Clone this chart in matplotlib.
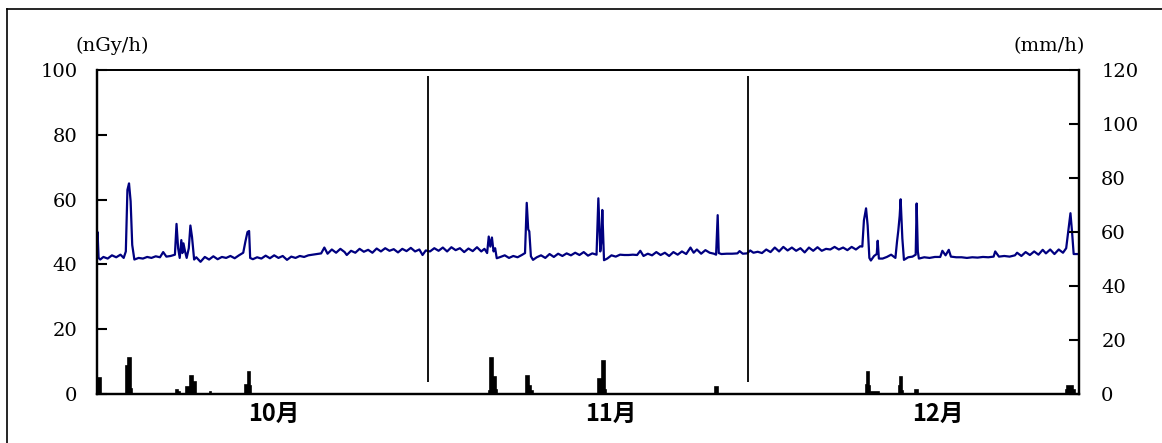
import numpy as np
import matplotlib
matplotlib.use("Agg")
import matplotlib.pyplot as plt
from matplotlib.lines import Line2D

# days counted from 1 Oct 00:00, dose rate in nGy/h
dose_day = [0.0, 0.05, 0.15, 0.3, 0.6, 1.0, 1.4, 1.8, 2.2, 2.5, 2.7, 2.85, 3.0, 3.15, 3.3, 3.5, 3.9, 4.3, 4.7, 5.1,
            5.5, 5.9, 6.2, 6.5, 6.9, 7.3, 7.45, 7.6, 7.75, 7.9, 8.0, 8.1, 8.25, 8.4, 8.6, 8.75, 8.9, 9.1, 9.3, 9.7,
            10.1, 10.5, 10.9, 11.3, 11.7, 12.1, 12.5, 12.9, 13.3, 13.7, 13.9, 14.1, 14.25, 14.35, 14.6, 15.0, 15.4, 15.8, 16.2, 16.6,
            17.0, 17.4, 17.8, 18.2, 18.6, 19.0, 19.4, 19.8, 20.2, 20.6, 21.0, 21.3, 21.6, 22.0, 22.4, 22.8, 23.2, 23.4, 23.8, 24.2,
            24.6, 25.0, 25.4, 25.8, 26.2, 26.6, 27.0, 27.4, 27.8, 28.2, 28.6, 29.0, 29.4, 29.8, 30.2, 30.5, 30.8,
            # Nov
            31.2, 31.6, 32.0, 32.4, 32.8, 33.2, 33.6, 34.0, 34.4, 34.8, 35.2, 35.6, 36.0, 36.3, 36.55, 36.7, 36.85, 37.0, 37.15, 37.3,
            37.45, 37.8, 38.2, 38.6, 39.0, 39.4, 39.8, 40.1, 40.26, 40.4, 40.5, 40.65, 40.85, 41.2, 41.6, 42.0, 42.4, 42.8, 43.2, 43.6,
            44.0, 44.4, 44.8, 45.2, 45.6, 46.0, 46.4, 46.8, 46.97, 47.15, 47.25, 47.34, 47.5, 47.8, 48.2, 48.6, 49.0, 49.4, 49.8, 50.2,
            50.6, 50.9, 51.2, 51.6, 52.0, 52.4, 52.8, 53.2, 53.6, 54.0, 54.4, 54.8, 55.2, 55.6, 55.9, 56.2, 56.6, 57.0, 57.4, 57.8,
            58.0, 58.15, 58.25, 58.5, 59.0, 59.5, 60.0, 60.2, 60.5, 60.9,
            # Dec
            61.2, 61.5, 61.9, 62.3, 62.7, 63.1, 63.5, 63.9, 64.3, 64.7, 65.1, 65.5, 65.9, 66.3, 66.7, 67.1, 67.5, 67.9, 68.3, 68.7,
            69.1, 69.5, 69.9, 70.3, 70.7, 71.1, 71.5, 71.7, 71.85, 72.05, 72.2, 72.36, 72.5, 72.8, 73.05, 73.14, 73.25, 73.6, 74.0, 74.4,
            74.8, 74.95, 75.07, 75.2, 75.29, 75.45, 75.6, 76.0, 76.4, 76.7, 76.79, 76.9, 77.0, 77.5, 78.0, 78.5, 79.0, 79.2, 79.5, 79.8,
            80.0, 80.5, 81.0, 81.5, 82.0, 82.5, 83.0, 83.5, 84.0, 84.15, 84.5, 85.0, 85.5, 86.0, 86.2, 86.6, 87.0, 87.4, 87.8, 88.2,
            88.6, 88.9, 89.3, 89.7, 90.1, 90.5, 90.8, 91.0, 91.2, 91.35, 91.5, 92.0]

dose_rate = [45.0, 50.0, 42.0, 41.5, 42.3, 41.8, 42.8, 42.2, 43.0, 42.0, 44.0, 63.0, 65.0, 59.5, 46.0, 41.5, 42.0, 41.8, 42.3, 42.0,
             42.5, 42.2, 43.8, 42.4, 42.6, 43.0, 52.5, 45.0, 42.0, 47.5, 43.5, 46.5, 44.0, 42.0, 45.0, 52.0, 48.5, 41.5, 42.2, 40.8,
             42.3, 41.5, 42.5, 41.6, 42.3, 42.0, 42.6, 41.9, 42.8, 43.6, 47.0, 50.0, 50.3, 42.0, 41.6, 42.2, 41.8, 42.7, 41.9, 42.8,
             42.0, 42.6, 41.4, 42.4, 42.0, 42.6, 42.3, 42.8, 43.0, 43.2, 43.4, 45.2, 43.3, 44.6, 43.6, 44.8, 43.8, 42.9, 44.2, 43.6,
             44.8, 43.9, 44.5, 43.6, 44.9, 44.0, 45.0, 44.2, 44.7, 43.7, 44.8, 44.1, 45.1, 44.0, 44.6, 42.9, 44.3,
             # Nov
             44.0, 45.0, 44.2, 45.2, 44.0, 45.3, 44.4, 45.0, 43.8, 44.9, 44.1, 45.3, 44.0, 44.8, 43.5, 48.6, 45.5, 48.3, 44.0, 45.0,
             41.9, 42.3, 42.8, 42.0, 42.6, 42.2, 42.9, 43.5, 59.0, 50.8, 50.2, 42.5, 41.4, 42.2, 42.8, 42.0, 43.2, 42.3, 43.3, 42.6,
             43.4, 42.8, 43.6, 42.9, 43.8, 42.7, 43.4, 43.0, 60.4, 44.0, 47.0, 56.8, 41.3, 41.8, 42.8, 42.4, 43.0, 42.9, 42.9, 43.0,
             42.9, 44.2, 42.6, 43.3, 42.8, 43.8, 42.9, 43.6, 42.6, 43.8, 43.0, 44.0, 43.2, 45.2, 43.6, 44.6, 43.3, 44.4, 43.6, 43.3,
             43.0, 55.2, 43.5, 43.2, 43.3, 43.3, 43.4, 44.1, 43.3, 43.4,
             # Dec
             44.3, 43.6, 43.9, 43.5, 44.6, 43.8, 45.2, 44.0, 45.4, 44.3, 45.2, 44.2, 45.0, 43.7, 45.2, 44.2, 45.3, 44.2, 44.8, 44.6,
             45.4, 44.6, 45.2, 44.4, 45.4, 44.6, 45.6, 45.5, 53.6, 57.3, 52.0, 42.0, 41.2, 42.6, 43.2, 47.3, 41.8, 41.8, 42.3, 43.0,
             42.0, 47.0, 50.4, 55.0, 60.1, 48.0, 41.4, 42.2, 42.4, 43.0, 58.8, 44.0, 41.8, 42.2, 42.0, 42.3, 42.3, 44.2, 42.8, 44.5,
             42.4, 42.2, 42.2, 42.0, 42.2, 42.1, 42.3, 42.2, 42.4, 44.0, 42.4, 42.6, 42.4, 42.8, 43.6, 42.6, 43.8, 42.9, 44.0, 43.0,
             44.5, 43.4, 44.6, 43.2, 44.6, 43.6, 45.0, 50.5, 55.8, 50.0, 43.2, 43.2]

# rainfall (mm/h): start day, duration (days), amount
rain_start = [0.0, 2.75, 2.87, 3.17, 7.4, 7.6, 8.3, 8.75, 9.0, 10.6, 13.85, 14.1, 14.35,
              36.7, 36.8, 37.1, 37.35, 40.2, 40.5, 40.7, 46.97, 47.3, 47.6, 57.9,
              72.0, 72.1, 72.35, 72.5, 75.1, 75.2, 75.45, 76.6, 90.75, 90.9, 91.45]
rain_len = [0.35, 0.12, 0.3, 0.15, 0.2, 0.15, 0.45, 0.25, 0.25, 0.12, 0.25, 0.25, 0.08,
            0.1, 0.3, 0.25, 0.1, 0.3, 0.2, 0.15, 0.33, 0.3, 0.1, 0.3,
            0.1, 0.25, 0.1, 0.8, 0.1, 0.25, 0.1, 0.3, 0.15, 0.55, 0.15]
rain_mm = [5.9, 10.4, 13.3, 2.0, 1.6, 0.8, 2.5, 6.8, 4.3, 0.6, 3.3, 8.0, 3.0,
           1.2, 13.2, 6.2, 1.5, 6.8, 2.9, 1.2, 5.6, 12.1, 1.5, 2.7,
           3.2, 8.3, 2.8, 0.7, 3.1, 6.2, 1.0, 1.4, 1.5, 2.9, 1.5]

month_bounds = [31, 61]
month_labels = ["10月", "11月", "12月"]
month_label_day = [16.6, 48.1, 78.8]

serif = "DejaVu Serif"
W, H = 1162, 443
fig = plt.figure(figsize=(W / 100, H / 100), dpi=100)
ax = fig.add_axes([97 / W, 49 / H, 982 / W, 324 / H])

ax.plot(dose_day, dose_rate, color="#000080", lw=1.6)
ax.vlines(month_bounds, 3.7, 98.1, color="black", lw=1.3)
ax.set_xlim(0, 92)
ax.set_ylim(0, 100)
ax.set_yticks([0, 20, 40, 60, 80, 100])
ax.set_xticks([])
ax.tick_params(axis="y", direction="in", length=7, width=1.5, pad=14,
               labelsize=14)
for lab in ax.get_yticklabels():
    lab.set_family(serif)

ax2 = ax.twinx()
ax2.bar(rain_start, rain_mm, width=rain_len, align="edge", color="black",
        edgecolor="black", lw=1.2)
ax2.set_ylim(0, 120)
ax2.set_yticks([0, 20, 40, 60, 80, 100, 120])
ax2.tick_params(axis="y", direction="in", length=7, width=1.5, pad=16,
                labelsize=14)
for lab in ax2.get_yticklabels():
    lab.set_family(serif)

for a in (ax, ax2):
    for s in a.spines.values():
        s.set_linewidth(1.6)
    a.spines["top"].set_linewidth(1.3)

for d, lab in zip(month_label_day, month_labels):
    ax.text(d, -2.5, lab, ha="center", va="top", fontsize=17, fontweight="bold",
            family=["Noto Sans CJK JP", "DejaVu Sans"])

ax.text(-0.0224, 1.075, "(nGy/h)", transform=ax.transAxes, ha="left", va="center",
        fontsize=14, family=serif)
ax.text(1.006, 1.075, "(mm/h)", transform=ax.transAxes, ha="right", va="center",
        fontsize=14, family=serif)

# outer frame
fig.add_artist(Line2D([7 / W, 7 / W], [0, 1 - 9 / H], transform=fig.transFigure, color="black", lw=1.2))
fig.add_artist(Line2D([7 / W, 1], [1 - 9 / H, 1 - 9 / H], transform=fig.transFigure, color="black", lw=1.2))

fig.savefig("out.png", dpi=100)
